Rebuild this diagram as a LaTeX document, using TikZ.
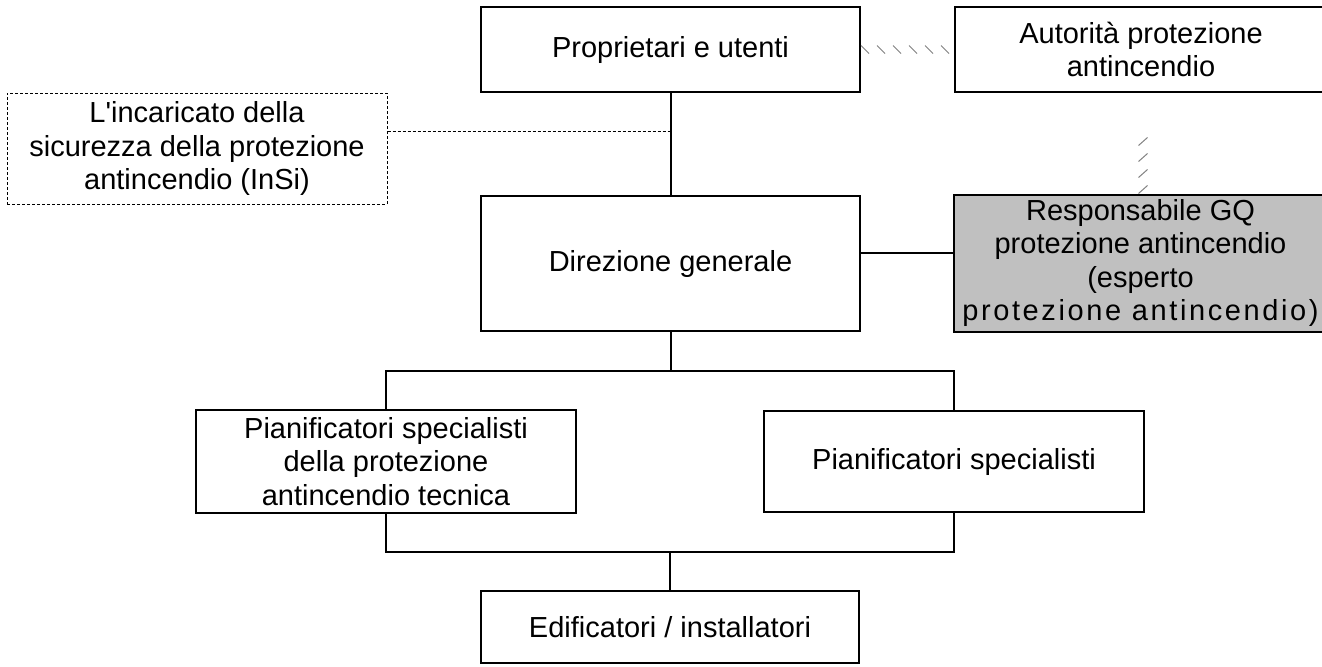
\documentclass[tikz,border=0pt]{standalone}
\usepackage{fontspec}
\setmainfont{Liberation Sans}
\usetikzlibrary{decorations.markings}
\definecolor{boxgray}{HTML}{C0C0C0}
\definecolor{tickgray}{HTML}{808080}
\begin{document}
\begin{tikzpicture}[x=0.5pt,y=-0.5pt,
  box/.style={draw, line width=1pt, inner sep=0pt, align=center, font=\fontsize{14.5pt}{16.8pt}\selectfont},
  dbox/.style={box, line width=0.5pt, dash pattern=on 1.5pt off 1pt},
  conn/.style={line width=1pt},
  dconn/.style={line width=0.5pt, dash pattern=on 1.5pt off 1pt},
  hatchh/.style={decorate, decoration={markings, mark=between positions 0 and 1 step 8pt with {\draw[tickgray, line width=0.5pt] (0pt,2pt) -- (4pt,-2pt);}}},
  hatchv/.style={decorate, decoration={markings, mark=between positions 0 and 1 step 8pt with {\draw[tickgray, line width=0.5pt] (0pt,2.25pt) -- (4pt,-2.25pt);}}}
]
\useasboundingbox (0,0) rectangle (1322,666);

\node[box, minimum width=189.5pt, minimum height=42.5pt] (prop) at (670.5,49.5) {Proprietari e utenti};
\node[box, minimum width=186pt, minimum height=42.5pt] (aut) at (1141,49.5) {Autorità protezione\\antincendio};
\node[dbox, minimum width=190pt, minimum height=55.5pt] (insi) at (197,148.5) {L\textquotesingle incaricato della\\sicurezza della protezione\\antincendio (InSi)};
\node[box, minimum width=189.5pt, minimum height=67.5pt] (dir) at (670.5,263.5) {Direzione generale};
\node[box, fill=boxgray, minimum width=186.5pt, minimum height=68.5pt] (resp) at (1140.5,263) {Responsabile GQ\\protezione antincendio\\(esperto\\{\addfontfeature{LetterSpace=9}protezione antincendio)}};
\node[box, minimum width=190pt, minimum height=51.5pt] (pfa) at (386,461.5) {Pianificatori specialisti\\della protezione\\antincendio tecnica};
\node[box, minimum width=190pt, minimum height=50.5pt] (ps) at (954,461.5) {Pianificatori specialisti};
\node[box, minimum width=189pt, minimum height=36pt] (edi) at (670,627) {Edificatori / installatori};

% connectors
\draw[conn] (prop.south) -- (dir.north);
\coordinate (j1) at (670.5,131);
\draw[dconn] (j1 -| insi.east) -- (j1);
\coordinate (j2) at (907,253);
\draw[conn] (j2 -| dir.east) -- (j2 -| resp.west);
\path[hatchh] (prop.east) -- (aut.west);
\coordinate (hv) at (1143,135);
\path[hatchv] (hv |- resp.north) -- (hv);

\coordinate (b1) at (670.5,371);
\draw[conn] (dir.south) -- (b1);
\draw[conn] (pfa.north) |- (b1) -| (ps.north);
\coordinate (b2) at (670.5,552);
\draw[conn] (pfa.south) |- (b2) -| (ps.south);
\draw[conn] (b2 -| edi.north) -- (edi.north);
\end{tikzpicture}
\end{document}
